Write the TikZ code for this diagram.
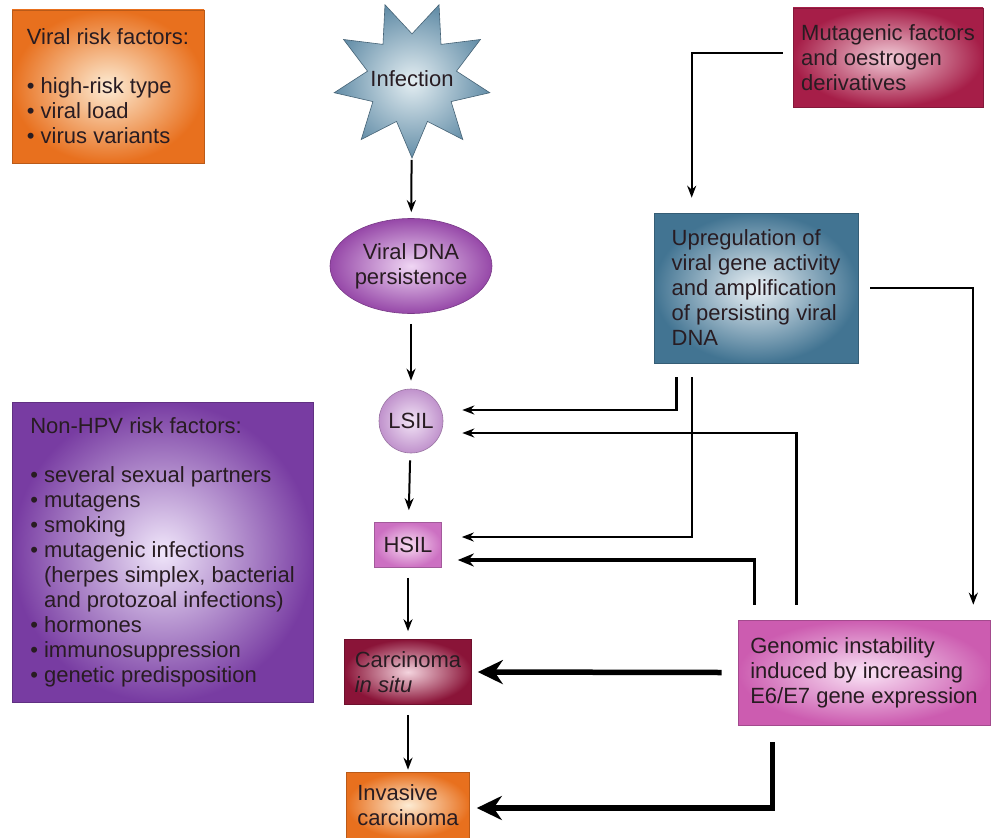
\documentclass[tikz,border=0pt]{standalone}
\usepackage{fontspec}
\setmainfont{Liberation Sans}
\usetikzlibrary{shapes.geometric,arrows.meta}

\definecolor{orangeout}{RGB}{232,112,30}
\definecolor{orangein}{RGB}{253,236,212}
\definecolor{starout}{RGB}{100,142,168}
\definecolor{starin}{RGB}{228,238,242}
\definecolor{dnaout}{RGB}{150,72,168}
\definecolor{dnain}{RGB}{240,214,244}
\definecolor{lsilout}{RGB}{192,146,204}
\definecolor{lsilin}{RGB}{242,228,246}
\definecolor{hsilout}{RGB}{204,112,194}
\definecolor{hsilin}{RGB}{248,220,242}
\definecolor{cisout}{RGB}{138,20,56}
\definecolor{cisin}{RGB}{244,212,222}
\definecolor{mutout}{RGB}{166,30,72}
\definecolor{mutin}{RGB}{242,204,216}
\definecolor{upout}{RGB}{66,116,146}
\definecolor{upin}{RGB}{236,242,246}
\definecolor{genout}{RGB}{204,92,176}
\definecolor{genin}{RGB}{250,228,246}
\definecolor{nonout}{RGB}{120,60,162}
\definecolor{nonin}{RGB}{240,230,250}
\definecolor{ink}{RGB}{40,28,34}

\newcommand{\itm}{\textbullet\ }
\newcommand{\ind}{\phantom{\textbullet\ }}

\begin{document}
\begin{tikzpicture}[x=1pt,y=-1pt,font=\fontsize{22}{25}\selectfont,line join=miter,
	>={Stealth[length=12pt,width=9pt]},
	box/.style={align=left,text=ink,inner sep=0pt,line width=0.6pt},
	flow/.style={->,line width=2pt,shorten <=10pt,shorten >=8pt},
	feed/.style={->,line width=2pt},
	heavy/.style={-{Stealth[length=25pt,width=24pt]},line width=5.5pt}]
	\useasboundingbox[fill=white] (0,0) rectangle (992,837);
	% risk factor boxes
	\node[box,draw=orangeout!80!black,inner color=orangein,outer color=orangeout,minimum width=192pt,minimum height=153pt] (viral) at (108,86.5)
		{Viral risk factors:\\[24pt]\itm high-risk type\\\itm viral load\\\itm virus variants};
	\node[box,draw=nonout!80!black,inner color=nonin,outer color=nonout,minimum width=301pt,minimum height=300pt] (nonhpv) at (162.5,552)
		{Non-HPV risk factors:\\[24pt]\itm several sexual partners\\\itm mutagens\\\itm smoking\\\itm mutagenic infections\\
		\ind(herpes simplex, bacterial\\\ind and protozoal infections)\\\itm hormones\\\itm immunosuppression\\\itm genetic predisposition};
	% main sequence
	\node[star,star points=9,star point ratio=1.75,shape border rotate=20,minimum size=158pt,inner sep=0pt,
		draw=starout!70!black,line width=0.6pt,inner color=starin,outer color=starout,
		label={[text=ink]center:Infection}] (infection) at (412,79) {};
	\node[box,ellipse,draw=dnaout!80!black,inner color=dnain,outer color=dnaout,minimum width=162pt,minimum height=95pt,align=center] (viraldna) at (411,266)
		{Viral DNA\\persistence};
	\node[box,circle,draw=lsilout!80!black,inner color=lsilin,outer color=lsilout,minimum size=64pt,align=center] (lsil) at (411,421) {LSIL};
	\node[box,draw=hsilout!80!black,inner color=hsilin,outer color=hsilout,minimum width=67pt,minimum height=45pt,align=center] (hsil) at (408,545) {HSIL};
	\node[box,draw=cisout!80!black,inner color=cisin,outer color=cisout,minimum width=127pt,minimum height=65pt] (cis) at (408,672)
		{Carcinoma\\\textit{in situ}};
	\node[box,draw=orangeout!80!black,inner color=orangein,outer color=orangeout,minimum width=123pt,minimum height=66pt] (invasive) at (408,805)
		{Invasive\\carcinoma};
	% right column
	\node[box,draw=mutout!80!black,inner color=mutin,outer color=mutout,minimum width=190pt,minimum height=99pt] (mutagenic) at (888,57.5)
		{Mutagenic factors\\and oestrogen\\derivatives};
	\node[box,draw=upout!80!black,inner color=upin,outer color=upout,minimum width=204pt,minimum height=150pt] (upreg) at (756,288)
		{Upregulation of\\viral gene activity\\and amplification\\of persisting viral\\DNA};
	\node[box,draw=genout!80!black,inner color=genin,outer color=genout,minimum width=252pt,minimum height=105pt] (genomic) at (864,672.5)
		{Genomic instability\\induced by increasing\\E6/E7 gene expression};

	\draw[flow,shorten <=2pt,shorten >=6pt] (infection) -- (viraldna);
	\draw[flow] (viraldna) -- (lsil);
	\draw[flow,shorten <=7pt,shorten >=12pt] (lsil) -- (hsil);
	\draw[flow] (hsil) -- (cis);
	\draw[flow,shorten >=2pt] (cis) -- (invasive);

	\draw[feed,shorten <=10pt,shorten >=15pt] ([yshift=4pt]mutagenic.west) -| ([xshift=38pt]upreg.north west);
	\draw[feed,shorten >=15pt] ([xshift=12pt]upreg.east) -| ([xshift=-17pt]genomic.north east);
	\draw[feed,line width=2.5pt,shorten >=19pt] ([xshift=23pt,yshift=-14pt]upreg.south west) |- ([yshift=11pt]lsil.east);
	\draw[feed,shorten >=20pt] ([xshift=38pt,yshift=-14pt]upreg.south west) |- ([yshift=8pt]hsil.east);
	\draw[feed,line width=2.5pt,shorten >=19pt] ([xshift=59pt,yshift=15pt]genomic.north west) |- ([yshift=-12pt]lsil.east);
	\draw[feed,line width=3.5pt,-{Stealth[length=16pt,width=13pt]},shorten >=16pt] ([xshift=17pt,yshift=15pt]genomic.north west) |- ([yshift=-15pt]hsil.east);
	\draw[heavy,shorten >=6pt] ([xshift=-16pt]genomic.west) -- (cis.east);
	\draw[heavy,shorten >=7pt] ([xshift=35pt,yshift=-17pt]genomic.south west) |- ([yshift=-3pt]invasive.east);
\end{tikzpicture}
\end{document}
